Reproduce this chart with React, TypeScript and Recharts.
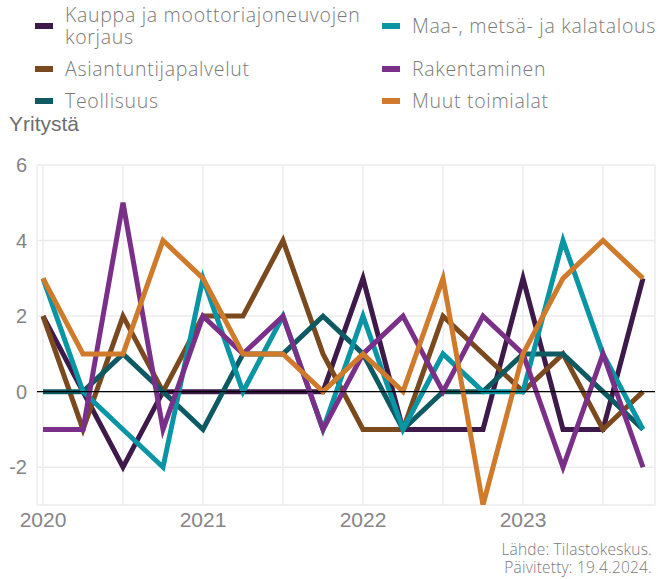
import { LineChart, Line, XAxis, YAxis, CartesianGrid, ReferenceLine } from 'recharts';

// quarters 2020Q1 .. 2023Q4
const quarters = [
  '2020Q1', '2020Q2', '2020Q3', '2020Q4',
  '2021Q1', '2021Q2', '2021Q3', '2021Q4',
  '2022Q1', '2022Q2', '2022Q3', '2022Q4',
  '2023Q1', '2023Q2', '2023Q3', '2023Q4',
];

const kauppa = [2, 0, -2, 0, 0, 0, 0, 0, 3, -1, -1, -1, 3, -1, -1, 3];
const asiantuntija = [2, -1, 2, 0, 2, 2, 4, 1, -1, -1, 2, 1, 0, 1, -1, 0];
const teollisuus = [0, 0, 1, 0, -1, 1, 1, 2, 1, -1, 0, 0, 1, 1, 0, -1];
const maa = [3, 0, -1, -2, 3, 0, 2, -1, 2, -1, 1, 0, 0, 4, 1, -1];
const rakentaminen = [-1, -1, 5, -1, 2, 1, 2, -1, 1, 2, 0, 2, 1, -2, 1, -2];
const muut = [3, 1, 1, 4, 3, 1, 1, 0, 1, 0, 3, -3, 1, 3, 4, 3];

const yTicks = [-2, 0, 2, 4, 6];
const xTicks = [0, 2, 4, 6, 8, 10, 12, 14];

const series = [
  { key: 'kauppa', name: 'Kauppa ja moottoriajoneuvojen korjaus', color: '#3d1a4a', values: kauppa },
  { key: 'asiantuntija', name: 'Asiantuntijapalvelut', color: '#7a4a1e', values: asiantuntija },
  { key: 'teollisuus', name: 'Teollisuus', color: '#0e5a62', values: teollisuus },
  { key: 'maa', name: 'Maa-, metsä- ja kalatalous', color: '#0a95a5', values: maa },
  { key: 'rakentaminen', name: 'Rakentaminen', color: '#7a2f88', values: rakentaminen },
  { key: 'muut', name: 'Muut toimialat', color: '#d07b2c', values: muut },
];

const data = quarters.map((q, i) => {
  const row: Record<string, number | string> = { i, q };
  series.forEach(s => { row[s.key] = s.values[i]; });
  return row;
});

const font = '"Open Sans", "Noto Sans", sans-serif';
const axisFont = '"Liberation Sans", Arial, sans-serif';
const grey = '#7a7a7a';

function LegendItem({ x, y, color, lines }: { x: number; y: number; color: string; lines: string[] }) {
  const lh = 22;
  const top = y - (lines.length * lh) / 2;
  return (
    <div style={{ position: 'absolute', left: x, top: 0 }}>
      <div style={{ position: 'absolute', left: 0, top: y - 3, width: 18, height: 6, background: color }} />
      <div style={{ position: 'absolute', left: 30, top, whiteSpace: 'nowrap', fontSize: 19.5, letterSpacing: 0.7, lineHeight: `${lh}px`, color: grey, fontWeight: 300 }}>
        {lines.map(l => <div key={l}>{l}</div>)}
      </div>
    </div>
  );
}

export default function App() {
  return (
    <div style={{ position: 'absolute', left: 0, top: 0, width: 658, height: 579, background: '#fff', fontFamily: font, overflow: 'hidden' }}>
      <LegendItem x={35} y={26} color="#3d1a4a" lines={['Kauppa ja moottoriajoneuvojen', 'korjaus']} />
      <LegendItem x={35} y={69} color="#7a4a1e" lines={['Asiantuntijapalvelut']} />
      <LegendItem x={35} y={101} color="#0e5a62" lines={['Teollisuus']} />
      <LegendItem x={382} y={26} color="#0a95a5" lines={['Maa-, metsä- ja kalatalous']} />
      <LegendItem x={382} y={69} color="#7a2f88" lines={['Rakentaminen']} />
      <LegendItem x={382} y={101} color="#d07b2c" lines={['Muut toimialat']} />
      <div style={{ position: 'absolute', left: 9, top: 112, fontFamily: axisFont, fontSize: 21, color: '#6e6e6e' }}>Yritystä</div>

      <div style={{ position: 'absolute', left: 0, top: 0 }}>
        <LineChart width={658} height={579} data={data} margin={{ top: 165, right: 3, bottom: 44, left: 0 }}>
          <CartesianGrid stroke="#ececec" strokeWidth={1.5} />
          <XAxis
            dataKey="i"
            type="number"
            domain={[0, 15]}
            ticks={xTicks}
            padding={{ left: 6, right: 12 }}
            tickFormatter={(v: number) => (v % 4 === 0 ? String(2020 + v / 4) : '')}
            axisLine={false}
            tickLine={false}
            height={30}
            tick={{ fill: '#858585', fontSize: 21, fontFamily: axisFont }}
            tickMargin={1}
          />
          <YAxis
            domain={[-3, 6]}
            ticks={yTicks}
            width={37}
            axisLine={false}
            tickLine={false}
            tick={{ fill: '#858585', fontSize: 20, fontFamily: axisFont }}
            tickMargin={4}
            allowDataOverflow
          />
          {series.map(s => (
            <Line
              key={s.key}
              dataKey={s.key}
              name={s.name}
              stroke={s.color}
              strokeWidth={5}
              dot={false}
              activeDot={false}
              isAnimationActive={false}
            />
          ))}
          <ReferenceLine y={0} stroke="#000" strokeWidth={1.2} />
        </LineChart>
      </div>

      <div style={{ position: 'absolute', right: 6, top: 540, textAlign: 'right', fontSize: 15.5, letterSpacing: 0.2, lineHeight: '18px', color: grey, fontWeight: 300 }}>
        <div>Lähde: Tilastokeskus.</div>
        <div>Päivitetty: 19.4.2024.</div>
      </div>
    </div>
  );
}
